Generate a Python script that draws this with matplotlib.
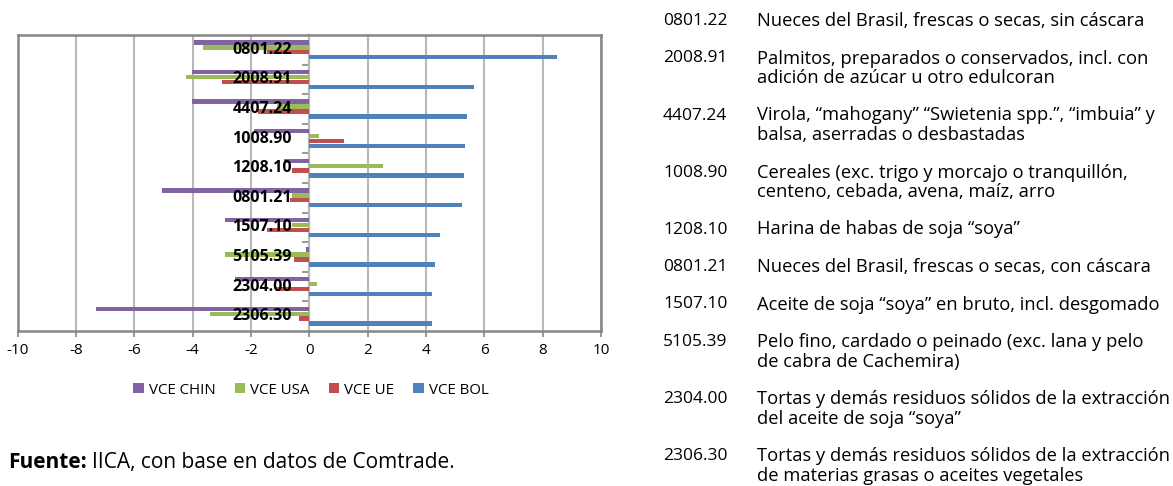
import matplotlib
matplotlib.use("Agg")
import matplotlib.pyplot as plt
import numpy as np

plt.rcParams['font.family'] = ['Open Sans', 'DejaVu Sans']

# data, top to bottom
codes = ['0801.22', '2008.91', '4407.24', '1008.90', '1208.10',
         '0801.21', '1507.10', '5105.39', '2304.00', '2306.30']
vce_chin = [-3.95, -4.03, -4.03, -1.90, -0.86, -5.05, -2.89, -0.10, -2.55, -7.30]
vce_usa = [-3.66, -4.24, -1.10, 0.34, 2.51, -0.60, -0.60, -2.89, 0.27, -3.39]
vce_ue = [-1.46, -2.98, -1.77, 1.19, -0.58, -0.66, -1.46, -0.51, -1.15, -0.34]
vce_bol = [8.49, 5.63, 5.39, 5.34, 5.31, 5.23, 4.48, 4.30, 4.21, 4.21]

series = ['VCE CHIN', 'VCE USA', 'VCE UE', 'VCE BOL']
colors = ['#8064A2', '#9BBB59', '#C0504D', '#4F81BD']

descs = [
    'Nueces del Brasil, frescas o secas, sin cáscara',
    'Palmitos, preparados o conservados, incl. con\nadición de azúcar u otro edulcoran',
    'Virola, “mahogany” “Swietenia spp.”, “imbuia” y\nbalsa, aserradas o desbastadas',
    'Cereales (exc. trigo y morcajo o tranquillón,\ncenteno, cebada, avena, maíz, arro',
    'Harina de habas de soja “soya”',
    'Nueces del Brasil, frescas o secas, con cáscara',
    'Aceite de soja “soya” en bruto, incl. desgomado',
    'Pelo fino, cardado o peinado (exc. lana y pelo\nde cabra de Cachemira)',
    'Tortas y demás residuos sólidos de la extracción\ndel aceite de soja “soya”',
    'Tortas y demás residuos sólidos de la extracción\nde materias grasas o aceites vegetales',
]

W, H = 1173, 486
fig = plt.figure(figsize=(W / 100, H / 100), dpi=100)
ax = fig.add_axes([17.7 / W, 1 - 331 / H, 583.3 / W, 296 / H])

y = np.arange(len(codes))
slot = 0.167
for k, (vals, name, c) in enumerate(zip([vce_chin, vce_usa, vce_ue, vce_bol], series, colors)):
    ax.barh(y + (k - 1.5) * slot, vals, height=0.148, color=c, label=name, zorder=3)

ax.set_xlim(-10, 10)
ax.set_ylim(len(codes) - 0.5, -0.5)
ax.set_xticks(np.arange(-10, 11, 2))
ax.set_xticklabels([str(v) for v in range(-10, 11, 2)], fontsize=11)
ax.tick_params(axis='x', direction='out', length=4, width=1.2, color='#868686', pad=5)
ax.set_yticks([])
ax.grid(axis='x', color='#B8B8B8', linewidth=1.5, zorder=0)
for s in ax.spines.values():
    s.set_color('#868686')
    s.set_linewidth(1.8)

# category axis at x = 0
sec = ax.secondary_yaxis(0.5)
sec.yaxis.set_ticks_position('left')
sec.set_yticks(y[:-1] + 0.5)
sec.set_yticklabels([])
sec.tick_params(direction='out', length=5, width=1.2, color='#868686')
for s in sec.spines.values():
    s.set_color('#868686')
    s.set_linewidth(1.5)

for yi, code in zip(y, codes):
    ax.text(-0.6, yi, code, ha='right', va='center', fontsize=11.5,
            fontweight='bold', zorder=5)

fig.legend(loc='center', bbox_to_anchor=(311 / W, 1 - 390 / H), ncol=4,
           frameon=False, fontsize=10.8, handlelength=0.7, handleheight=0.6,
           columnspacing=1.25, handletextpad=0.35)

t1 = fig.text(8 / W, 1 - 462 / H, 'Fuente:', fontsize=15, fontweight='bold',
              va='center')
fig.canvas.draw()
bb = t1.get_window_extent()
fig.text((bb.x1 + 5) / W, 1 - 462 / H, 'IICA, con base en datos de Comtrade.',
         fontsize=15, va='center')

# right-hand table of codes
ypos = 21
for code, d in zip(codes, descs):
    fig.text(663 / W, 1 - ypos / H, code, fontsize=12.5, va='center')
    lines = d.split('\n')
    for j, line in enumerate(lines):
        fig.text(757 / W, 1 - (ypos + 19.5 * j) / H, line, fontsize=13.2, va='center')
    ypos += 37.5 + 19.5 * (len(lines) - 1)

fig.savefig('out.png', dpi=100)
